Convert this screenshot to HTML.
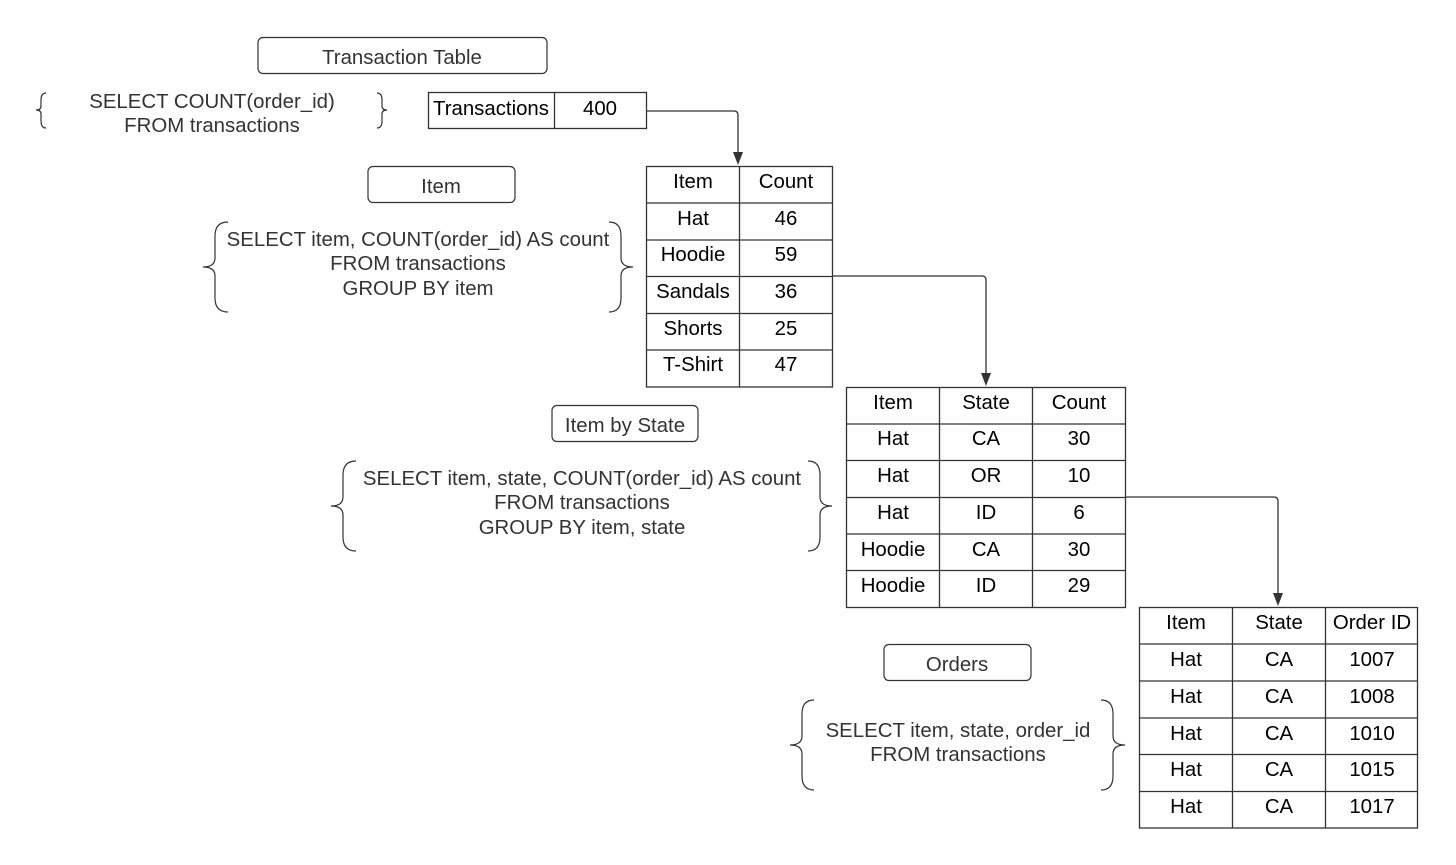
<!DOCTYPE html>
<html><head><meta charset="utf-8"><style>
html,body{margin:0;padding:0;background:#fff;width:1456px;height:865px;overflow:hidden}
svg{display:block}
text{font-family:"Liberation Sans",Arial,sans-serif}
.t{font-size:20.4px;fill:#000;text-anchor:middle}
.q{font-size:20.4px;fill:#333;text-anchor:middle}
.b{fill:none;stroke:#333;stroke-width:1.2}
.g{stroke:#333;stroke-width:1.3;fill:none}
</style></head><body>
<svg width="1456" height="865" viewBox="0 0 1456 865">
<!-- label boxes -->
<rect x="258" y="37.5" width="289" height="36" rx="5" class="b"/>
<text x="402" y="64" class="q">Transaction Table</text>
<rect x="368" y="166.5" width="147" height="36" rx="5" class="b"/>
<text x="441" y="193" class="q">Item</text>
<rect x="552" y="405.5" width="146" height="36" rx="5" class="b"/>
<text x="625" y="432" class="q">Item by State</text>
<rect x="884" y="644.5" width="147" height="36" rx="5" class="b"/>
<text x="957" y="671" class="q">Orders</text>
<!-- braces -->
<path class="b" d="M46,93 Q41,93 41,100 L41,106 Q41,110 36,110 Q41,110 41,114 L41,121 Q41,128 46,128"/>
<path class="b" d="M377,93 Q382,93 382,100 L382,106 Q382,110 387,110 Q382,110 382,114 L382,121 Q382,128 377,128"/>
<text x="212" y="108" class="q">SELECT COUNT(order_id)</text>
<text x="212" y="132" class="q">FROM transactions</text>

<path class="b" d="M228,222 Q215,222 215,236 L215,258 Q215,267 203,267 Q215,267 215,276 L215,298 Q215,312 228,312"/>
<path class="b" d="M609,222 Q621,222 621,236 L621,258 Q621,267 633,267 Q621,267 621,276 L621,298 Q621,312 609,312"/>
<text x="418" y="246" class="q">SELECT item, COUNT(order_id) AS count</text>
<text x="418" y="270" class="q">FROM transactions</text>
<text x="418" y="295" class="q">GROUP BY item</text>

<path class="b" d="M356,461 Q343,461 343,475 L343,497 Q343,506 331,506 Q343,506 343,515 L343,537 Q343,551 356,551"/>
<path class="b" d="M808,461 Q820,461 820,475 L820,497 Q820,506 832,506 Q820,506 820,515 L820,537 Q820,551 808,551"/>
<text x="582" y="485" class="q">SELECT item, state, COUNT(order_id) AS count</text>
<text x="582" y="509" class="q">FROM transactions</text>
<text x="582" y="534" class="q">GROUP BY item, state</text>

<path class="b" d="M814,700 Q802,700 802,714 L802,736 Q802,745 790,745 Q802,745 802,754 L802,776 Q802,790 814,790"/>
<path class="b" d="M1101,700 Q1113,700 1113,714 L1113,736 Q1113,745 1125,745 Q1113,745 1113,754 L1113,776 Q1113,790 1101,790"/>
<text x="958" y="737" class="q">SELECT item, state, order_id</text>
<text x="958" y="761" class="q">FROM transactions</text>

<!-- connectors -->
<path class="g" d="M646,111 L734,111 Q738,111 738,115 L738,154"/>
<polygon points="733,152 743,152 738,165" fill="#333"/>
<path class="g" d="M832,276 L982,276 Q986,276 986,280 L986,375"/>
<polygon points="981,373 991,373 986,386" fill="#333"/>
<path class="g" d="M1125,497 L1274,497 Q1278,497 1278,501 L1278,595"/>
<polygon points="1273,593 1283,593 1278,606" fill="#333"/>

<!-- table 1 -->
<g class="g"><rect x="428.5" y="92.5" width="218" height="36"/><line x1="554.5" y1="92" x2="554.5" y2="129"/></g>
<text x="491" y="115" class="t">Transactions</text><text x="600" y="115" class="t">400</text>

<!-- table 2 -->
<g class="g"><rect x="646.5" y="166.5" width="186" height="220.5"/><line x1="739.5" y1="166" x2="739.5" y2="387"/>
<line x1="646" y1="203" x2="833" y2="203"/><line x1="646" y1="240" x2="833" y2="240"/><line x1="646" y1="276.5" x2="833" y2="276.5"/><line x1="646" y1="313.5" x2="833" y2="313.5"/><line x1="646" y1="350" x2="833" y2="350"/></g>
<text x="693" y="188" class="t">Item</text><text x="786" y="188" class="t">Count</text>
<text x="693" y="225" class="t">Hat</text><text x="786" y="225" class="t">46</text>
<text x="693" y="261" class="t">Hoodie</text><text x="786" y="261" class="t">59</text>
<text x="693" y="298" class="t">Sandals</text><text x="786" y="298" class="t">36</text>
<text x="693" y="335" class="t">Shorts</text><text x="786" y="335" class="t">25</text>
<text x="693" y="371" class="t">T-Shirt</text><text x="786" y="371" class="t">47</text>

<!-- table 3 -->
<g class="g"><rect x="846.5" y="387.5" width="279" height="220"/><line x1="939.5" y1="387" x2="939.5" y2="607"/><line x1="1032.5" y1="387" x2="1032.5" y2="607"/>
<line x1="846" y1="424" x2="1126" y2="424"/><line x1="846" y1="460.5" x2="1126" y2="460.5"/><line x1="846" y1="497.5" x2="1126" y2="497.5"/><line x1="846" y1="534" x2="1126" y2="534"/><line x1="846" y1="570.5" x2="1126" y2="570.5"/></g>
<text x="893" y="409" class="t">Item</text><text x="986" y="409" class="t">State</text><text x="1079" y="409" class="t">Count</text>
<text x="893" y="445" class="t">Hat</text><text x="986" y="445" class="t">CA</text><text x="1079" y="445" class="t">30</text>
<text x="893" y="482" class="t">Hat</text><text x="986" y="482" class="t">OR</text><text x="1079" y="482" class="t">10</text>
<text x="893" y="519" class="t">Hat</text><text x="986" y="519" class="t">ID</text><text x="1079" y="519" class="t">6</text>
<text x="893" y="556" class="t">Hoodie</text><text x="986" y="556" class="t">CA</text><text x="1079" y="556" class="t">30</text>
<text x="893" y="592" class="t">Hoodie</text><text x="986" y="592" class="t">ID</text><text x="1079" y="592" class="t">29</text>

<!-- table 4 -->
<g class="g"><rect x="1139.5" y="607.5" width="278" height="220.5"/><line x1="1232.5" y1="607" x2="1232.5" y2="828"/><line x1="1325.5" y1="607" x2="1325.5" y2="828"/>
<line x1="1139" y1="644" x2="1418" y2="644"/><line x1="1139" y1="681" x2="1418" y2="681"/><line x1="1139" y1="718" x2="1418" y2="718"/><line x1="1139" y1="754.5" x2="1418" y2="754.5"/><line x1="1139" y1="791.5" x2="1418" y2="791.5"/></g>
<text x="1186" y="629" class="t">Item</text><text x="1279" y="629" class="t">State</text><text x="1372" y="629" class="t">Order ID</text>
<text x="1186" y="666" class="t">Hat</text><text x="1279" y="666" class="t">CA</text><text x="1372" y="666" class="t">1007</text>
<text x="1186" y="703" class="t">Hat</text><text x="1279" y="703" class="t">CA</text><text x="1372" y="703" class="t">1008</text>
<text x="1186" y="740" class="t">Hat</text><text x="1279" y="740" class="t">CA</text><text x="1372" y="740" class="t">1010</text>
<text x="1186" y="776" class="t">Hat</text><text x="1279" y="776" class="t">CA</text><text x="1372" y="776" class="t">1015</text>
<text x="1186" y="813" class="t">Hat</text><text x="1279" y="813" class="t">CA</text><text x="1372" y="813" class="t">1017</text>
</svg>
</body></html>
